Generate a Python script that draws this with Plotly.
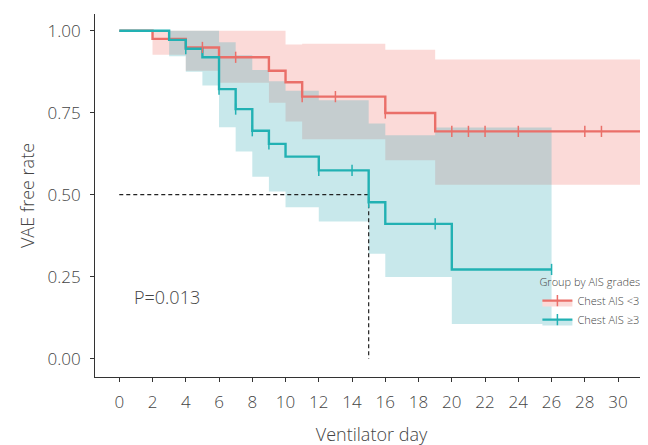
import plotly.graph_objects as go

# ---------------- data ----------------
# Chest AIS <3
red_time = [0, 2, 4, 6, 9, 10, 11, 16, 19, 31.6]
red_surv = [1.0, 0.975, 0.949, 0.919, 0.878, 0.843, 0.799, 0.749, 0.693, 0.693]
red_upper = [1.0, 1.0, 1.0, 1.0, 1.0, 0.958, 0.960, 0.942, 0.912, 0.912]
red_lower = [1.0, 0.927, 0.878, 0.841, 0.780, 0.723, 0.669, 0.605, 0.530, 0.530]
red_cens_time = [5, 7, 11, 13, 16, 20, 21, 22, 24, 28, 29]
red_cens_surv = [0.949, 0.919, 0.799, 0.799, 0.749, 0.693, 0.693, 0.693, 0.693, 0.693, 0.693]

# Chest AIS >=3
teal_time = [0, 3, 4, 5, 6, 7, 8, 9, 10, 12, 15, 16, 19, 20, 26]
teal_surv = [1.0, 0.972, 0.945, 0.919, 0.822, 0.761, 0.695, 0.655, 0.616, 0.574, 0.477, 0.411, 0.411, 0.272, 0.272]
teal_upper = [1.0, 1.0, 1.0, 1.0, 0.965, 0.925, 0.880, 0.846, 0.817, 0.788, 0.717, 0.681, 0.705, 0.705, 0.705]
teal_lower = [1.0, 0.922, 0.875, 0.833, 0.706, 0.632, 0.555, 0.510, 0.462, 0.418, 0.320, 0.249, 0.249, 0.106, 0.106]
teal_cens_time = [4, 6, 7, 8, 9, 12, 14, 15, 19, 26]
teal_cens_surv = [0.945, 0.822, 0.761, 0.695, 0.655, 0.574, 0.574, 0.477, 0.411, 0.272]

median_time = 15
median_surv = 0.5

x_ticks = list(range(0, 31, 2))
y_ticks = [0, 0.25, 0.5, 0.75, 1.0]
y_ticktext = ["0.00", "0.25", "0.50", "0.75", "1.00"]

group_names = ["Chest AIS <3", "Chest AIS \u22653"]
legend_title = "Group by AIS grades"
p_text = "P=0.013"

# ---------------- style ----------------
RED = "#EA6F69"
TEAL = "#22B1B3"
PINK_FILL = "rgb(251,218,216)"
TEAL_FILL = "rgba(59,173,184,0.28)"
FONT = "Open Sans"
TXT = "#444444"

fig = go.Figure()

# confidence bands
fig.add_trace(go.Scatter(x=red_time, y=red_lower, mode="lines", line=dict(width=0, shape="hv"),
                         showlegend=False, hoverinfo="skip"))
fig.add_trace(go.Scatter(x=red_time, y=red_upper, mode="lines", line=dict(width=0, shape="hv"),
                         fill="tonexty", fillcolor=PINK_FILL, showlegend=False, hoverinfo="skip"))
fig.add_trace(go.Scatter(x=teal_time, y=teal_lower, mode="lines", line=dict(width=0, shape="hv"),
                         showlegend=False, hoverinfo="skip"))
fig.add_trace(go.Scatter(x=teal_time, y=teal_upper, mode="lines", line=dict(width=0, shape="hv"),
                         fill="tonexty", fillcolor=TEAL_FILL, showlegend=False, hoverinfo="skip"))

# median lines
fig.add_trace(go.Scatter(x=[0, median_time, median_time], y=[median_surv, median_surv, 0],
                         mode="lines", line=dict(color="#222222", width=1.2, dash="4px,3px"),
                         showlegend=False, hoverinfo="skip"))

# survival curves
fig.add_trace(go.Scatter(x=red_time, y=red_surv, mode="lines", line=dict(color=RED, width=2.4, shape="hv"),
                         showlegend=False))
fig.add_trace(go.Scatter(x=teal_time, y=teal_surv, mode="lines", line=dict(color=TEAL, width=2.4, shape="hv"),
                         showlegend=False))

# censor marks
fig.add_trace(go.Scatter(x=red_cens_time, y=red_cens_surv, mode="markers",
                         marker=dict(symbol="line-ns", size=8, line=dict(color=RED, width=1.5)),
                         showlegend=False))
fig.add_trace(go.Scatter(x=teal_cens_time, y=teal_cens_surv, mode="markers",
                         marker=dict(symbol="line-ns", size=8, line=dict(color=TEAL, width=1.5)),
                         showlegend=False))

# legend entries
for name, lc, fc in [(group_names[0], RED, PINK_FILL), (group_names[1], TEAL, "rgb(200,232,235)")]:
    fig.add_trace(go.Scatter(x=[None], y=[None], mode="lines+markers", name=name,
                             line=dict(color=lc, width=2.3), fill="toself", fillcolor=fc,
                             marker=dict(symbol="line-ns", size=8, line=dict(color=lc, width=1.5))))

fig.add_annotation(x=0.75, y=0.187, xref="x", yref="y", text=p_text, showarrow=False,
                   xanchor="left", yanchor="middle",
                   font=dict(family=FONT, size=18, color=TXT, weight=300))

fig.update_layout(
    width=648, height=445,
    margin=dict(l=87, r=8, t=6, b=76, autoexpand=False),
    paper_bgcolor="white", plot_bgcolor="white",
    font=dict(family=FONT, color=TXT, weight=300),
    legend=dict(title=dict(text=legend_title, font=dict(size=11, color=TXT, weight=300)),
                font=dict(size=11, color=TXT, weight=300), x=0.8, y=0.29, xanchor="left", yanchor="top",
                bgcolor="rgba(0,0,0,0)", tracegroupgap=0, itemwidth=30, traceorder="normal"),
)
fig.update_xaxes(range=[-1.46, 31.8], tickvals=x_ticks, ticks="outside", ticklen=4, tickcolor="#333333",
                 showline=True, linecolor="#333333", linewidth=1, showgrid=False, zeroline=False,
                 automargin=False, ticklabelstandoff=6, tickfont=dict(size=17, color=TXT, weight=300),
                 title=dict(text="Ventilator day", font=dict(size=18, color=TXT, weight=300), standoff=15))
fig.update_yaxes(range=[-0.056, 1.051], tickvals=y_ticks, ticktext=y_ticktext, ticks="outside", ticklen=4,
                 tickcolor="#333333", showline=True, linecolor="#333333", linewidth=1, showgrid=False,
                 zeroline=False, automargin=False, ticklabelstandoff=6,
                 tickfont=dict(size=17, color=TXT, weight=300),
                 title=dict(text="VAE free rate", font=dict(size=18, color=TXT, weight=300), standoff=8))

fig.write_html("out.html")
